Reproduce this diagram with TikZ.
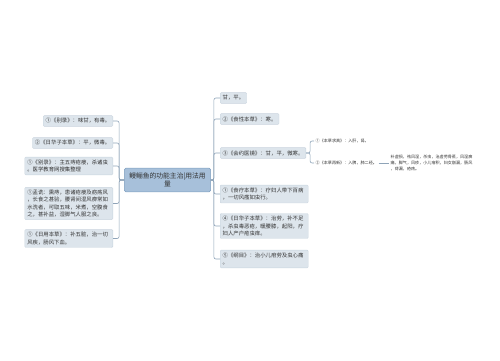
\documentclass[tikz,border=0pt]{standalone}
\usepackage{fontspec}
\newfontfamily\cjk{Noto Sans CJK SC}
\definecolor{topicfill}{HTML}{A7C0DA}
\definecolor{topicline}{HTML}{7E9EBE}
\definecolor{leaffill}{HTML}{DDE5EC}
\definecolor{leafline}{HTML}{C9D4DE}
\definecolor{linkgray}{HTML}{8FA4B8}
\definecolor{inkgray}{HTML}{333333}
\tikzset{
  topic/.style={draw=topicline, fill=topicfill, rounded corners=1.5bp, text=inkgray,
    font=\cjk\fontsize{6.8}{8.6}\selectfont, align=center, inner xsep=5bp, inner ysep=4.5bp},
  leaf/.style={draw=leafline, fill=leaffill, rounded corners=1bp, text=inkgray,
    font=\cjk\fontsize{5.4}{7.2}\selectfont, align=left, inner xsep=2.5bp, inner ysep=2.8bp},
  widebox/.style={leaf, text width=83bp},
  note/.style={text=inkgray, font=\cjk\fontsize{4.1}{6}\selectfont, align=left, inner sep=1.5bp},
  link/.style={draw=linkgray, line width=0.6bp, rounded corners=2bp}
}
\begin{document}
\begin{tikzpicture}[x=1bp,y=-1bp]
  \useasboundingbox (0,0) rectangle (500,360);
  % centre
  \node[topic] (ctr) at (167.5,180) {鳗鲡鱼的功能主治|用法用\\量};
  % left side
  \node[leaf, anchor=east] (l1) at (113,121) {①《别录》：味甘，有毒。};
  \node[leaf, anchor=east] (l2) at (113,143) {②《日华子本草》：平，微毒。};
  \node[widebox, anchor=east] (l3) at (113,166) {①《别录》：主五痔疮瘘，杀诸虫\\。医学教育网搜集整理};
  \node[widebox, anchor=east] (l4) at (113,203.5) {①孟诜：熏痔，患诸疮瘘及疬疡风\\，长食之甚验，腰肾间湿风痹常如\\水洗者，可取五味，米煮，空腹食\\之，甚补益，湿脚气人服之良。};
  \node[widebox, anchor=east] (l5) at (113,238.5) {①《日用本草》：补五脏，治一切\\风疾，肠风下血。};
  % right side
  \node[leaf, anchor=west] (r1) at (220,98) {甘，平。};
  \node[leaf, anchor=west] (r2) at (220,119) {②《食性本草》：寒。};
  \node[leaf, anchor=west] (r3) at (220,153) {③《会约医镜》：甘，平，微寒。};
  \node[widebox, anchor=west] (r4) at (220,194) {①《食疗本草》：疗妇人带下百病\\，一切风瘙如虫行。};
  \node[widebox, anchor=west] (r5) at (220,226) {④《日华子本草》：治劳，补不足\\，杀虫毒恶疮，暖腰膝，起阳，疗\\妇人产户疮虫痒。};
  \node[widebox, anchor=west] (r6) at (220,259) {⑤《纲目》：治小儿疳劳及虫心痛\\。};
  % sub branch
  \node[note, anchor=west] (s1) at (314,141) {①《本草求真》：入肝，肾。};
  \node[note, anchor=west] (s2) at (314,163) {②《本草再新》：入脾，肺二经。};
  \node[note, anchor=west] (blk) at (389,163) {补虚损，祛风湿，杀虫，治虚劳骨蒸，风湿痹\\痛，脚气，风疹，小儿疳积，妇女崩漏，肠风\\，痔漏，疮疡。};
  % connectors
  \foreach \n in {l1,l2,l3,l4,l5}
    \draw[link] (ctr.west) -- ++(-5,0) |- (\n.east);
  \foreach \n in {r1,r2,r3,r4,r5,r6}
    \draw[link] (ctr.east) -- ++(3,0) |- (\n.west);
  \foreach \n in {s1,s2}
    \draw[link] (r3.east) -- ++(4,0) |- (\n.west);
  \draw[link] (s2.east) -- (blk.west);
\end{tikzpicture}
\end{document}
